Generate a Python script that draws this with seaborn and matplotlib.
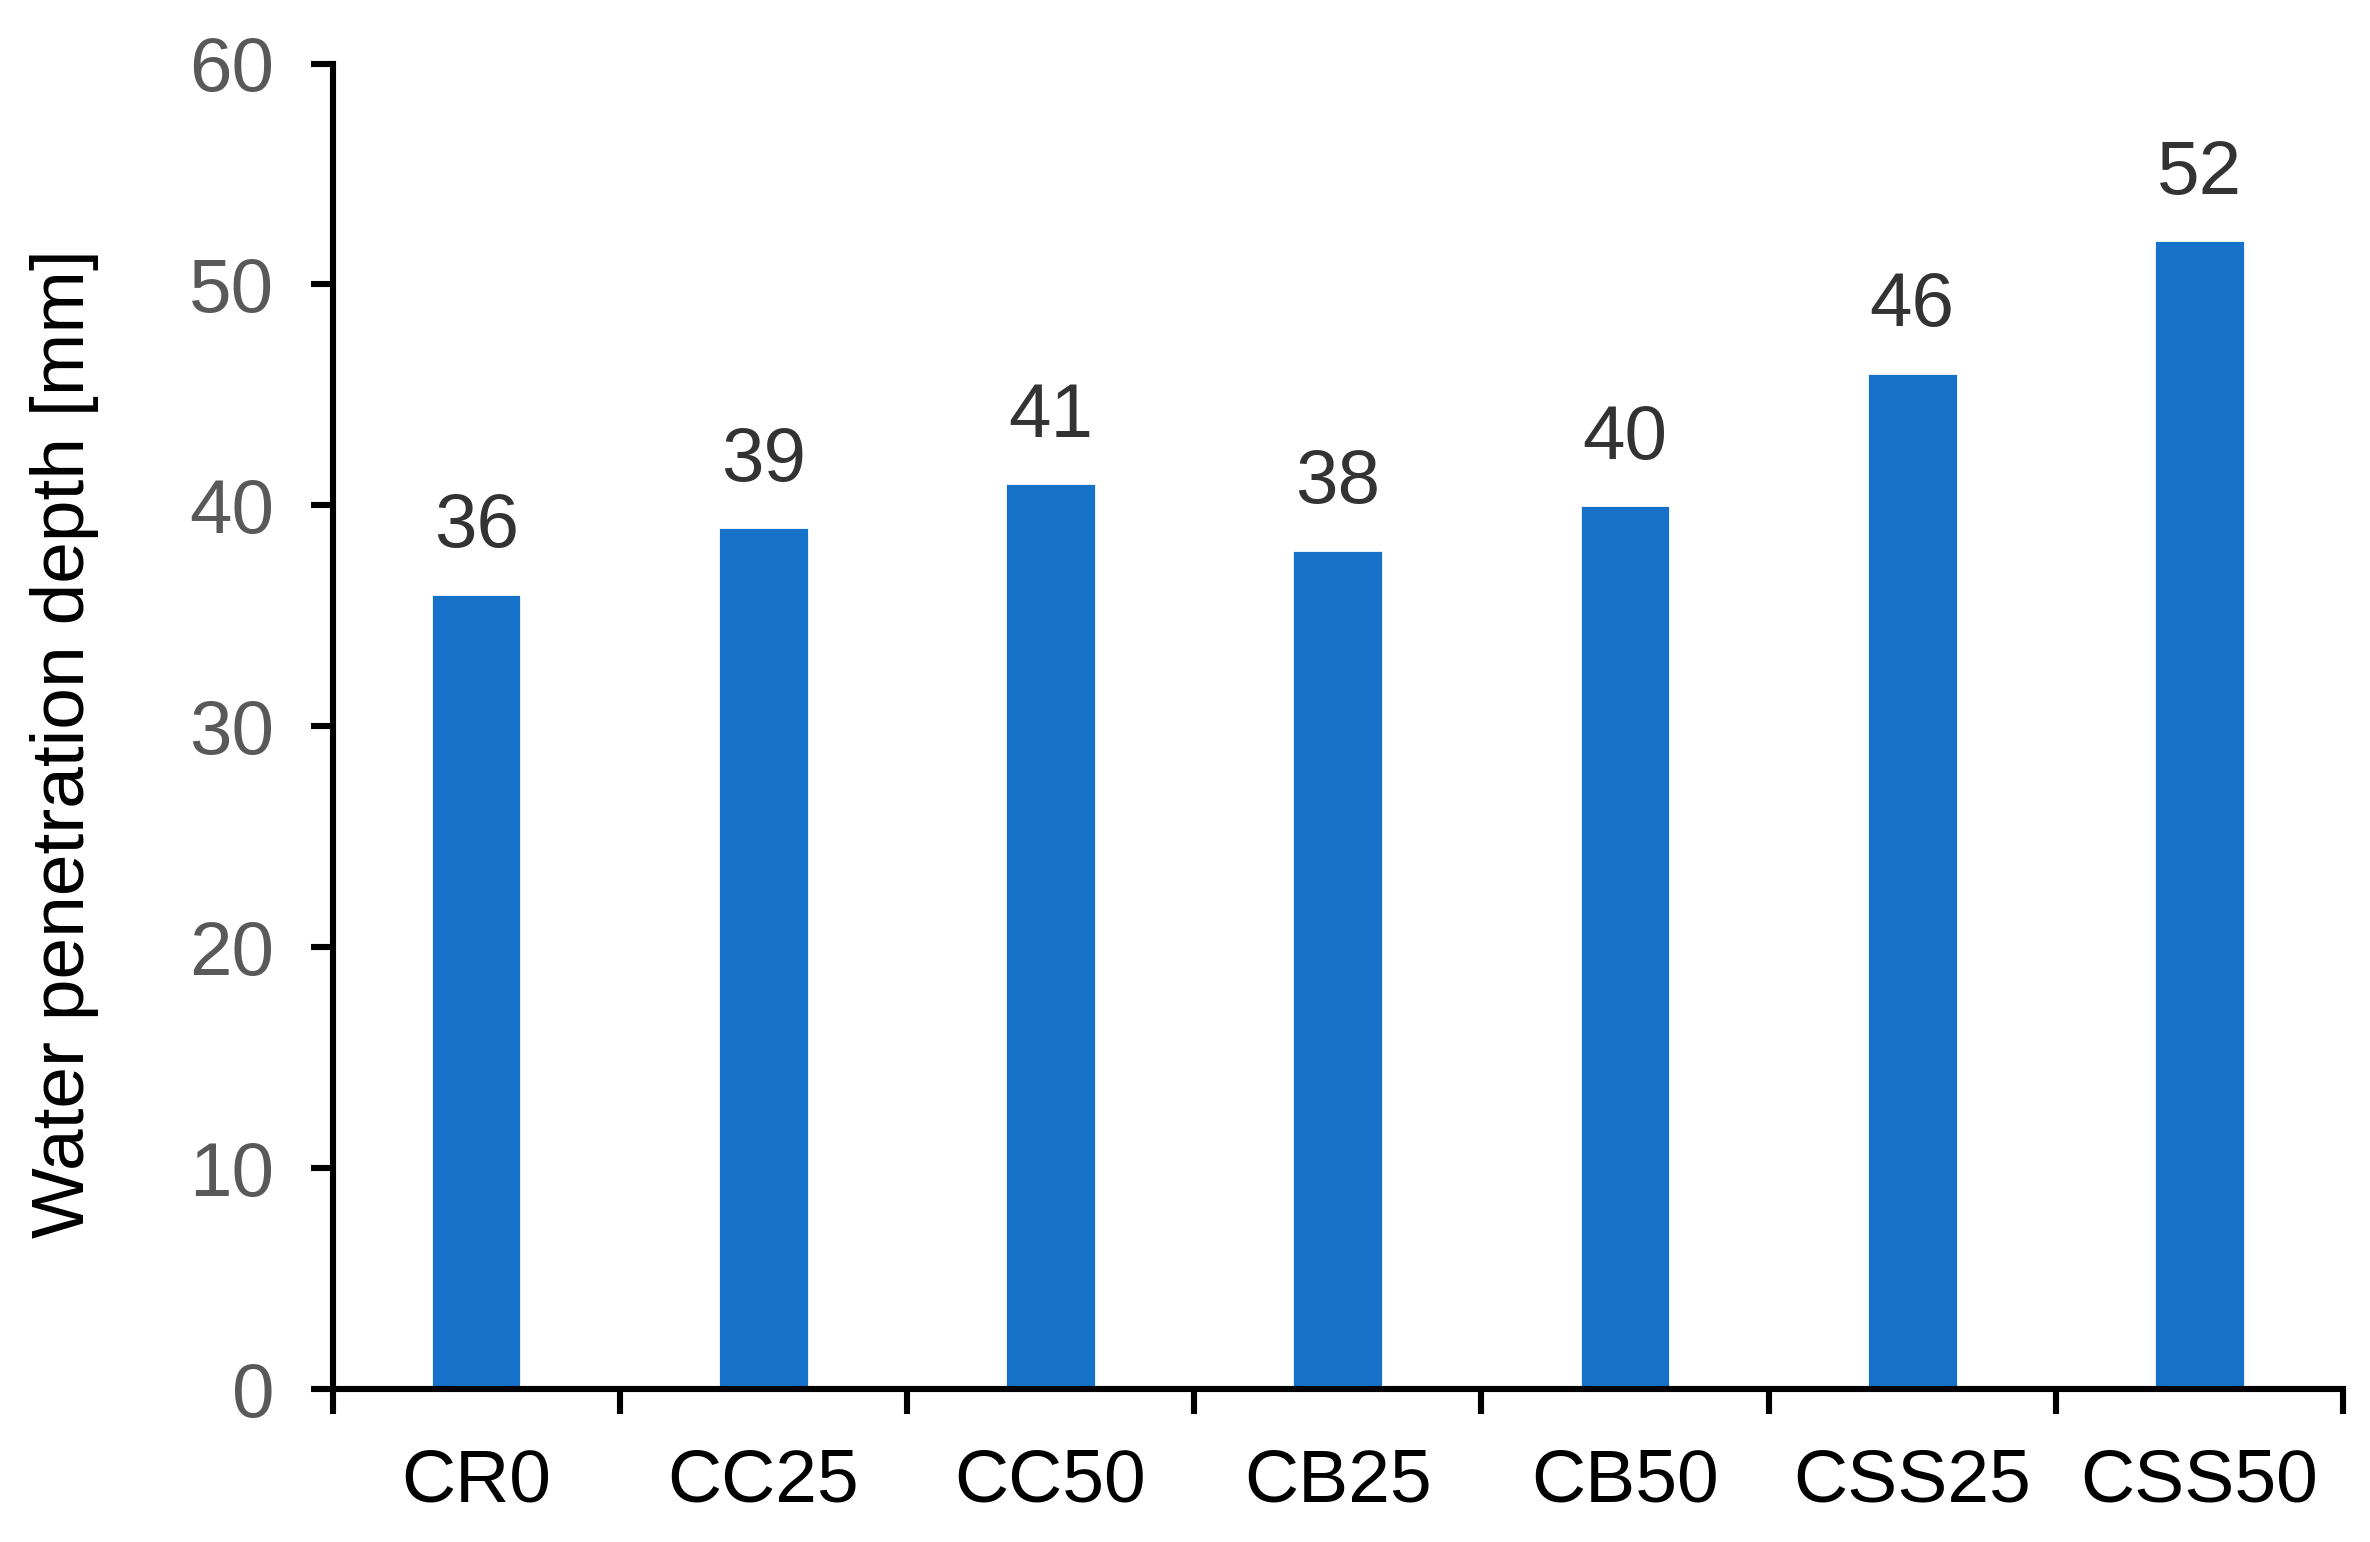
import matplotlib
matplotlib.use("Agg")
import matplotlib.pyplot as plt
import seaborn as sns
import pandas as pd
import numpy as np

categories = ["CR0", "CC25", "CC50", "CB25", "CB50", "CSS25", "CSS50"]
values = [36, 39, 41, 38, 40, 46, 52]
y_ticks = [0, 10, 20, 30, 40, 50, 60]

sns.set_theme(style="white")
plt.rcParams['font.family'] = ['Liberation Sans', 'DejaVu Sans']

df = pd.DataFrame({"cat": categories, "val": values})

fig = plt.figure(figsize=(11.85, 7.71), dpi=200)
ax = fig.add_axes([0.1403, 0.0992, 0.8483, 0.8596])

sns.barplot(data=df, x="cat", y="val", color="#1672C8", saturation=1,
            width=0.316, ax=ax, order=categories)

ax.set_ylim(0, 60)
ax.set_xlim(-0.5, len(categories) - 0.5)
ax.set_yticks(y_ticks)
ax.set_yticklabels([str(t) for t in y_ticks])

for s in ["top", "right"]:
    ax.spines[s].set_visible(False)
for s in ["left", "bottom"]:
    ax.spines[s].set_linewidth(2.2)
    ax.spines[s].set_color("black")

ax.tick_params(axis="y", which="major", direction="out", length=8, width=2.2,
               color="black", labelsize=27.5, labelcolor="#595959", pad=13, left=True)
ax.tick_params(axis="x", which="major", length=0, labelsize=27, labelcolor="black", pad=21)
ax.set_xticks(np.arange(-0.5, len(categories), 1.0), minor=True)
ax.tick_params(axis="x", which="minor", direction="out", length=9, width=2.2,
               color="black", bottom=True)

for i, v in enumerate(values):
    ax.annotate(str(v), xy=(i, v), xytext=(0, 11), textcoords="offset points",
                ha="center", va="bottom", fontsize=27.5, color="#333333")

ax.set_xlabel("")
ax.set_ylabel("Water penetration depth [mm]", fontsize=27, color="black")
ax.yaxis.set_label_coords(-0.116, 0.487)

fig.savefig("out.png", dpi=200, facecolor="white")
